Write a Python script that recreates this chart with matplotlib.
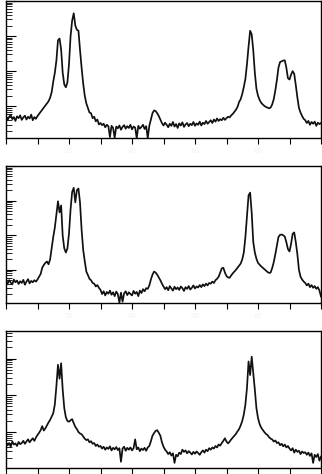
import numpy as np
import matplotlib
matplotlib.use("Agg")
import matplotlib.pyplot as plt
from matplotlib.ticker import MultipleLocator, FuncFormatter, LogLocator, NullFormatter

# channel axis (arbitrary units), 0.5 step
x = np.arange(0, 100.5, 0.5)

# log10 intensities, one row = 5 x-units
top_log = [
    1.72, 1.60, 1.70, 1.75, 1.63, 1.69, 1.58, 1.71, 1.66, 1.74,
    1.61, 1.68, 1.73, 1.62, 1.70, 1.65, 1.76, 1.60, 1.69, 1.64,
    1.72, 1.78, 1.84, 1.90, 1.96, 2.02, 2.08, 2.14, 2.24, 2.40,
    2.70, 2.95, 3.30, 3.88, 3.93, 3.62, 2.95, 2.62, 2.54, 2.68,
    3.20, 4.00, 4.44, 4.65, 4.30, 4.18, 4.15, 3.60, 3.10, 2.65,
    2.30, 2.08, 1.95, 1.82, 1.80, 1.66, 1.70, 1.57, 1.62, 1.48,
    1.52, 1.46, 1.50, 1.40, 1.47, 1.43, 1.12, 1.44, 1.38, 1.10,
    1.42, 1.37, 1.45, 1.33, 1.41, 1.46, 1.36, 1.43, 1.38, 1.47,
    1.34, 1.42, 1.39, 1.09, 1.44, 1.36, 1.41, 1.47, 1.35, 1.43,
    1.09, 1.44, 1.62, 1.80, 1.88, 1.86, 1.80, 1.72, 1.62, 1.52,
    1.45, 1.53, 1.47, 1.40, 1.50, 1.44, 1.55, 1.42, 1.49, 1.38,
    1.51, 1.45, 1.54, 1.41, 1.48, 1.52, 1.43, 1.50, 1.46, 1.55,
    1.44, 1.51, 1.47, 1.56, 1.45, 1.53, 1.49, 1.58, 1.50, 1.55,
    1.60, 1.52, 1.62, 1.56, 1.65, 1.58, 1.63, 1.60, 1.67, 1.61,
    1.66, 1.70, 1.68, 1.74, 1.78, 1.84, 1.90, 1.98, 2.12, 2.20,
    2.35, 2.55, 2.78, 3.20, 3.70, 4.15, 4.05, 3.59, 2.95, 2.50,
    2.30, 2.18, 2.10, 2.05, 2.01, 1.98, 1.96, 1.94, 1.96, 2.05,
    2.20, 2.45, 2.75, 3.10, 3.26, 3.28, 3.30, 3.31, 3.10, 2.80,
    2.76, 2.90, 3.00, 2.92, 2.60, 2.25, 1.95, 1.82, 1.72, 1.64,
    1.60, 1.52, 1.58, 1.47, 1.55, 1.50, 1.56, 1.44, 1.53, 1.49,
    1.52,
]

mid_log = [
    1.68, 1.60, 1.70, 1.63, 1.58, 1.72, 1.64, 1.69, 1.59, 1.67,
    1.62, 1.71, 1.57, 1.66, 1.73, 1.61, 1.68, 1.64, 1.70, 1.66,
    1.72, 1.80, 1.88, 2.06, 2.14, 2.20, 2.24, 2.16, 2.30, 2.62,
    2.95, 3.22, 3.60, 3.98, 3.66, 3.86, 2.98, 2.62, 2.50, 2.62,
    3.05, 3.75, 4.25, 4.37, 3.95, 4.30, 4.35, 3.94, 3.16, 2.58,
    2.25, 1.95, 1.85, 1.74, 1.70, 1.62, 1.60, 1.52, 1.56, 1.48,
    1.42, 1.30, 1.38, 1.26, 1.36, 1.31, 1.40, 1.28, 1.35, 1.24,
    1.37, 1.30, 1.05, 1.34, 1.08, 1.32, 1.38, 1.27, 1.35, 1.30,
    1.26, 1.39, 1.31, 1.36, 1.24, 1.40, 1.33, 1.44, 1.38, 1.47,
    1.45, 1.55, 1.72, 1.86, 1.95, 1.92, 1.86, 1.78, 1.70, 1.60,
    1.52, 1.44, 1.50, 1.41, 1.53, 1.46, 1.40, 1.51, 1.44, 1.49,
    1.42, 1.52, 1.47, 1.39, 1.50, 1.45, 1.53, 1.43, 1.48, 1.55,
    1.46, 1.52, 1.49, 1.56, 1.50, 1.58, 1.53, 1.60, 1.55, 1.62,
    1.60, 1.66, 1.62, 1.70, 1.74, 1.80, 1.92, 2.04, 2.06, 1.92,
    1.82, 1.78, 1.77, 1.84, 1.90, 1.95, 2.00, 2.06, 2.12, 2.18,
    2.30, 2.50, 2.95, 3.54, 4.15, 4.23, 3.65, 2.80, 2.50, 2.32,
    2.20, 2.15, 2.10, 2.06, 2.02, 1.98, 1.94, 1.91, 1.92, 2.05,
    2.22, 2.45, 2.70, 2.95, 3.01, 3.02, 3.00, 2.96, 2.80, 2.60,
    2.53, 2.75, 3.04, 3.08, 2.80, 2.45, 2.00, 1.80, 1.72, 1.66,
    1.62, 1.55, 1.60, 1.50, 1.56, 1.48, 1.53, 1.45, 1.50, 1.40,
    1.23,
]

bot_log = [
    1.72, 1.64, 1.70, 1.60, 1.74, 1.66, 1.69, 1.62, 1.73, 1.67,
    1.70, 1.76, 1.68, 1.74, 1.80, 1.72, 1.78, 1.83, 1.76, 1.85,
    1.92, 1.98, 2.05, 2.16, 2.04, 2.10, 2.18, 2.26, 2.33, 2.42,
    2.51, 2.75, 3.25, 3.83, 3.45, 3.87, 3.15, 2.65, 2.40, 2.30,
    2.28, 2.32, 2.35, 2.24, 2.14, 2.08, 2.00, 1.96, 1.94, 1.88,
    1.82, 1.78, 1.80, 1.72, 1.75, 1.68, 1.70, 1.62, 1.66, 1.60,
    1.62, 1.55, 1.60, 1.52, 1.58, 1.54, 1.61, 1.50, 1.57, 1.53,
    1.59, 1.51, 1.56, 1.19, 1.55, 1.60, 1.49, 1.57, 1.52, 1.58,
    1.50, 1.56, 1.80, 1.53, 1.58, 1.48, 1.55, 1.51, 1.57, 1.49,
    1.58, 1.62, 1.75, 1.90, 1.97, 2.03, 2.05, 1.98, 1.90, 1.72,
    1.60, 1.52, 1.47, 1.40, 1.45, 1.36, 1.42, 1.16, 1.38, 1.34,
    1.44, 1.40, 1.52, 1.46, 1.50, 1.42, 1.48, 1.44, 1.39, 1.46,
    1.41, 1.47, 1.43, 1.38, 1.45, 1.50, 1.44, 1.52, 1.48, 1.56,
    1.52, 1.58, 1.55, 1.62, 1.58, 1.66, 1.63, 1.70, 1.76, 1.83,
    1.74, 1.69, 1.74, 1.80, 1.85, 1.90, 1.95, 2.02, 2.08, 2.18,
    2.30, 2.48, 2.75, 3.20, 3.92, 3.55, 4.05, 3.60, 3.15, 2.65,
    2.38, 2.22, 2.12, 2.06, 2.00, 1.95, 1.92, 1.86, 1.82, 1.80,
    1.74, 1.77, 1.70, 1.72, 1.64, 1.68, 1.61, 1.66, 1.58, 1.62,
    1.55, 1.50, 1.56, 1.44, 1.52, 1.46, 1.49, 1.40, 1.47, 1.43,
    1.45, 1.38, 1.44, 1.35, 1.42, 1.16, 1.38, 1.32, 1.40, 1.22,
    1.33,
]

series = [top_log, mid_log, bot_log]
ylims = [(12.4, 1.0e5), (11.0, 1.0e5), (10.5, 5.6e4)]

W, H = 322, 474
fig = plt.figure(figsize=(W / 100, H / 100), dpi=100)

# panel boxes in pixels: (top, bottom)
boxes = [(1, 138), (166, 303), (331, 468)]
left, right = 6, 321


def inner_label(v, pos):
    # end labels would fall off the figure edge
    if v <= 0 or v >= 100:
        return ""
    return f"{v:g}"


for i, ((t, b), vals, yl) in enumerate(zip(boxes, series, ylims)):
    ax = fig.add_axes([left / W, 1 - b / H, (right - left) / W, (b - t) / H])
    ax.plot(x, 10 ** np.array(vals), color="#111111", lw=1.25)
    ax.set_yscale("log")
    ax.set_xlim(0, 100)
    ax.set_ylim(*yl)
    ax.xaxis.set_major_locator(MultipleLocator(20))
    ax.xaxis.set_minor_locator(MultipleLocator(10))
    ax.xaxis.set_major_formatter(FuncFormatter(inner_label))
    ax.yaxis.set_major_locator(LogLocator(base=10))
    ax.yaxis.set_minor_locator(LogLocator(base=10, subs=np.arange(2, 10)))
    ax.yaxis.set_minor_formatter(NullFormatter())
    ax.tick_params(axis="x", which="both", direction="out", length=4,
                   width=0.8, top=False, labelsize=5, labelcolor="#f2f2f2",
                   labelbottom=(i < 2))
    ax.tick_params(axis="y", which="major", direction="in", length=7,
                   width=0.8, right=False, labelleft=False)
    ax.tick_params(axis="y", which="minor", direction="in", length=4,
                   width=0.6, right=False, labelleft=False)
    for s in ax.spines.values():
        s.set_linewidth(1.0)
        s.set_color("black")

fig.savefig("out.png", dpi=100)
